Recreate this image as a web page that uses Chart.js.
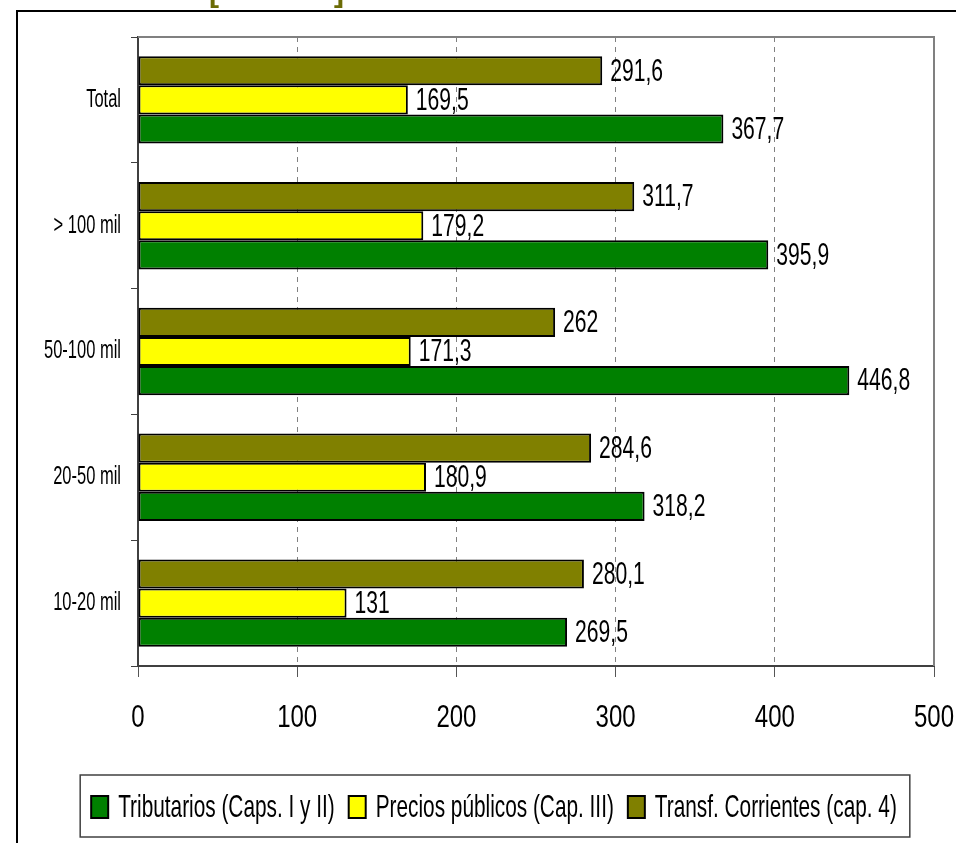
<!DOCTYPE html>
<html>
<head>
<meta charset="utf-8">
<script src="https://cdn.jsdelivr.net/npm/chart.js@4.4.1/dist/chart.umd.min.js"></script>
<style>
  html, body { margin: 0; padding: 0; background: #fff; overflow: hidden; }
  #wrap { position: absolute; left: 0; top: 0; width: 971px; height: 843px; }
</style>
</head>
<body>
<div id="wrap"><canvas id="barras" width="971" height="843"></canvas></div>
<script>
var categorias = ['Total', '> 100 mil', '50-100 mil', '20-50 mil', '10-20 mil'];
var tributarios = [367.7, 395.9, 446.8, 318.2, 269.5];
var preciosPublicos = [169.5, 179.2, 171.3, 180.9, 131];
var transfCorrientes = [291.6, 311.7, 262, 284.6, 280.1];
var ticksX = [0, 100, 200, 300, 400, 500];

var fuente = "'Liberation Sans', Arial, sans-serif";

// the original uses a condensed face; squeeze the text horizontally
function textoAngosto(c, txt, x, y, align, sx) {
    c.save();
    c.translate(x, y);
    c.scale(sx, 1);
    c.textAlign = align;
    c.fillText(txt, 0, 0);
    c.restore();
}

var extras = {
    id: 'extras',
    beforeDraw: function (chart) {
        var c = chart.ctx;
        c.save();
        c.strokeStyle = '#000';
        c.lineWidth = 2;
        c.beginPath();
        c.moveTo(17, 843);
        c.lineTo(17, 11);
        c.lineTo(chart.width, 11);
        c.stroke();
        c.fillStyle = '#6b6b06';
        c.font = 'bold 30px ' + fuente;
        c.textBaseline = 'alphabetic';
        c.fillText('[', 209, 2);
        c.fillText(']', 334, 2);
        c.restore();
    },
    beforeDatasetsDraw: function (chart) {
        var a = chart.chartArea, c = chart.ctx;
        c.save();
        c.strokeStyle = '#808080';
        c.lineWidth = 2;
        c.beginPath();
        c.moveTo(a.left, a.top);
        c.lineTo(a.right, a.top);
        c.lineTo(a.right, a.bottom);
        c.stroke();
        c.restore();
    },
    afterDatasetsDraw: function (chart) {
        var c = chart.ctx;
        c.save();
        c.font = '32px ' + fuente;
        c.fillStyle = '#000';
        c.textBaseline = 'middle';
        chart.data.datasets.forEach(function (ds, i) {
            chart.getDatasetMeta(i).data.forEach(function (bar, j) {
                var txt = String(ds.data[j]).replace('.', ',');
                textoAngosto(c, txt, bar.x + 8, bar.y + 1, 'left', 0.66);
            });
        });
        c.restore();
    },
    afterDraw: function (chart) {
        var c = chart.ctx;
        var sx = chart.scales.x, sy = chart.scales.y;
        c.save();
        c.fillStyle = '#000';

        // axis labels
        c.font = '32px ' + fuente;
        c.textBaseline = 'alphabetic';
        sx.ticks.forEach(function (t, i) {
            textoAngosto(c, String(t.value), sx.getPixelForTick(i), 727, 'center', 0.75);
        });
        c.font = '25px ' + fuente;
        c.textBaseline = 'middle';
        sy.ticks.forEach(function (t, i) {
            textoAngosto(c, sy.getLabelForValue(t.value), 121, sy.getPixelForTick(i), 'right', 0.66);
        });

        // legend, Tributarios first
        var items = chart.data.datasets.slice().reverse();
        var sq = 0.65;
        c.font = '32px ' + fuente;
        c.textBaseline = 'alphabetic';
        var anchos = items.map(function (ds) { return c.measureText(ds.label).width * sq; });
        var total = 0;
        anchos.forEach(function (w) { total += 17 + 10 + w; });
        total += 14 * (items.length - 1);
        var x = 494 - total / 2;
        var x0 = x;
        items.forEach(function (ds, k) {
            c.fillStyle = ds.backgroundColor;
            c.fillRect(x, 796, 17, 22);
            c.strokeStyle = '#000';
            c.lineWidth = 2;
            c.strokeRect(x, 796, 17, 22);
            c.fillStyle = '#000';
            textoAngosto(c, ds.label, x + 27, 817, 'left', sq);
            x += 27 + anchos[k] + 14;
        });
        x -= 14;
        c.strokeStyle = '#404040';
        c.lineWidth = 1.5;
        c.strokeRect(x0 - 11, 775, x - x0 + 24, 62);
        c.restore();
    }
};

var ctx = document.getElementById('barras').getContext('2d');

var chart = new Chart(ctx, {
    type: 'bar',
    data: {
        labels: categorias,
        datasets: [{
            label: 'Transf. Corrientes (cap. 4)',
            data: transfCorrientes,
            backgroundColor: '#808000',
            borderColor: '#000',
            borderWidth: 2,
            borderSkipped: false
        }, {
            label: 'Precios públicos (Cap. III)',
            data: preciosPublicos,
            backgroundColor: '#ffff00',
            borderColor: '#000',
            borderWidth: 2,
            borderSkipped: false
        }, {
            label: 'Tributarios (Caps. I y II)',
            data: tributarios,
            backgroundColor: '#008000',
            borderColor: '#000',
            borderWidth: 2,
            borderSkipped: false
        }]
    },
    options: {
        indexAxis: 'y',
        responsive: false,
        animation: false,
        barPercentage: 1,
        categoryPercentage: 0.695,
        layout: {
            padding: { left: 18, top: 37, right: 37, bottom: 0 }
        },
        scales: {
            x: {
                min: 0,
                max: 500,
                afterBuildTicks: function (scale) {
                    scale.ticks = ticksX.map(function (v) { return { value: v }; });
                },
                afterFit: function (scale) { scale.height = 177; },
                grid: {
                    color: function (c) {
                        return (c.tick && (c.tick.value === 0 || c.tick.value === 500)) ? 'rgba(0,0,0,0)' : '#808080';
                    },
                    lineWidth: 1,
                    tickBorderDash: [],
                    tickColor: '#555',
                    tickLength: 11
                },
                border: { color: '#404040', width: 2, dash: [5, 5] },
                ticks: { display: false }
            },
            y: {
                afterFit: function (scale) { scale.width = 120; },
                grid: {
                    drawOnChartArea: false,
                    drawTicks: true,
                    tickLength: 7,
                    tickColor: '#404040'
                },
                border: { color: '#404040', width: 2 },
                ticks: { display: false }
            }
        },
        plugins: {
            legend: { display: false },
            tooltip: { enabled: false }
        }
    },
    plugins: [extras]
});
</script>
</body>
</html>
